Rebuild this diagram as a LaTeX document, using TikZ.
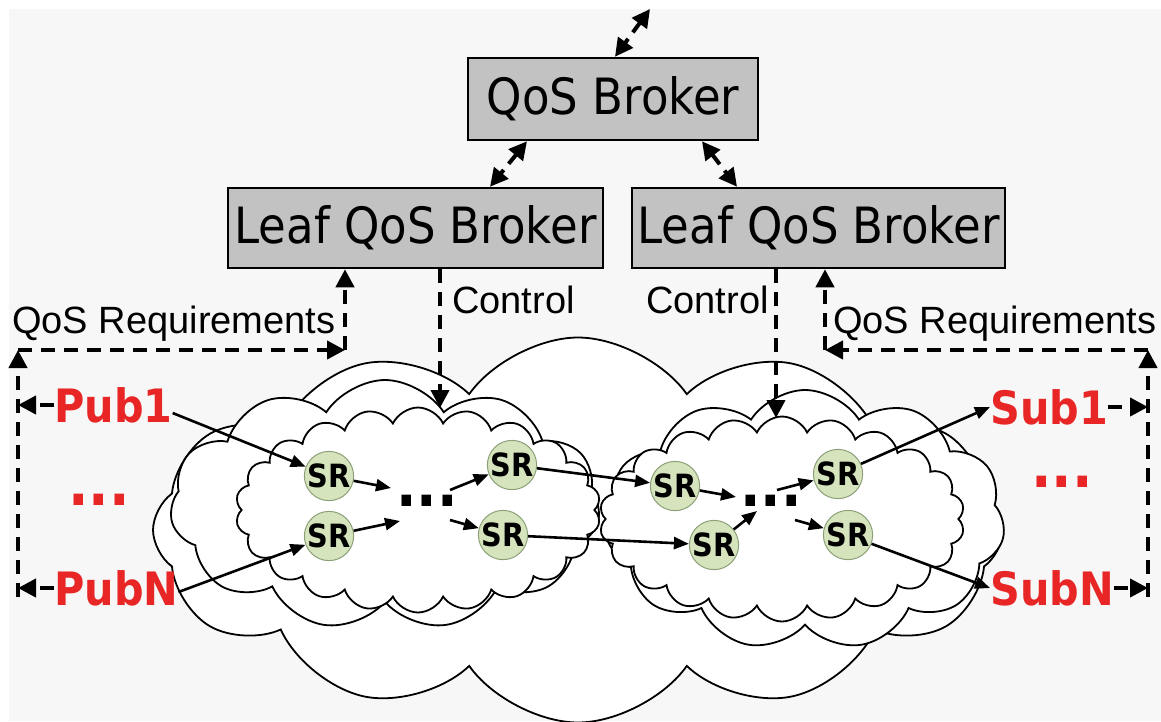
\documentclass[tikz,border=0pt]{standalone}
\usepackage{fontspec}
\usetikzlibrary{shapes.symbols,arrows.meta,calc}
\newfontfamily\arialf{Liberation Sans}
\newfontfamily\verdf[FakeStretch=0.9]{DejaVu Sans}
\definecolor{bg}{RGB}{247,247,247}
\definecolor{boxgray}{RGB}{194,194,194}
\definecolor{srfill}{RGB}{214,228,190}
\definecolor{srdraw}{RGB}{140,160,120}
\definecolor{pubred}{RGB}{232,38,38}
\begin{document}
\begin{tikzpicture}[x=1pt,y=-1pt,
 broker/.style={draw=black,line width=2.5pt,fill=boxgray,inner sep=0pt,font=\verdf\fontsize{50}{56}\selectfont},
 sr/.style={circle,draw=srdraw,line width=1pt,fill=srfill,minimum size=47pt,inner sep=0pt,font=\verdf\bfseries\fontsize{32}{34}\selectfont},
 pubsub/.style={text=pubred,inner sep=0pt,font=\verdf\bfseries\fontsize{46}{50}\selectfont},
 lbl/.style={inner sep=0pt,font=\arialf\fontsize{38}{42}\selectfont},
 dots/.style={inner sep=0pt,anchor=base,font=\verdf\bfseries\fontsize{60}{60}\selectfont},
 dasharrow/.style={line width=4pt,dash pattern=on 14pt off 9pt,-{Triangle[length=18pt,width=18pt]}},
 dashboth/.style={line width=4pt,dash pattern=on 12pt off 8pt,{Triangle[length=18pt,width=18pt]}-{Triangle[length=18pt,width=18pt]}},
 flow/.style={line width=2.6pt,-{Triangle[length=15pt,width=12pt]}},
 cloudy/.style={cloud,cloud ignores aspect,draw=black,line width=1.8pt,fill=white,inner sep=0pt},
]
\useasboundingbox (0,0) rectangle (1161,721);
\fill[bg] (9,9) rectangle (1161,721);

% clouds
\node[cloudy,cloud puffs=12,cloud puff arc=110,minimum width=850pt,minimum height=385pt] (outer) at (578,530) {};
\node[cloudy,cloud puffs=11,cloud puff arc=115,minimum width=430pt,minimum height=250pt] (midL) at (385,505) {};
\node[cloudy,cloud puffs=11,cloud puff arc=115,minimum width=400pt,minimum height=260pt] (midR) at (805,520) {};
\node[cloudy,cloud puffs=22,cloud puff arc=130,minimum width=365pt,minimum height=205pt] (inL) at (418,510) {};
\node[cloudy,cloud puffs=22,cloud puff arc=130,minimum width=365pt,minimum height=205pt] (inR) at (782,519) {};

% brokers
\node[broker,minimum width=290pt,minimum height=82pt] (qb) at (613,99) {QoS Broker};
\node[broker,minimum width=375pt,minimum height=80pt] (leafL) at (415.5,228) {Leaf QoS Broker};
\node[broker,minimum width=373pt,minimum height=80pt] (leafR) at (818.5,228) {Leaf QoS Broker};

% labels
\node[lbl,anchor=base west] (qrL) at (12,333) {QoS Requirements};
\node[lbl,anchor=base west] (qrR) at (833,333) {QoS Requirements};
\node[lbl,anchor=base west] (ctL) at (452,313) {Control};
\node[lbl,anchor=base west] (ctR) at (646,313) {Control};

% pubs / subs
\node[pubsub,anchor=west] (pub1) at (54,405) {Pub1};
\node[pubsub,anchor=west] (pubN) at (54,588) {PubN};
\node[pubsub,anchor=west] (sub1) at (990,407) {Sub1};
\node[pubsub,anchor=west] (subN) at (990,588) {SubN};
\node[dots,text=pubred] (rdL) at (99,505) {...};
\node[dots,text=pubred] (rdR) at (1062,487) {...};
\node[dots] (bdL) at (427,506) {...};
\node[dots] (bdR) at (771,506) {...};

% SR nodes
\node[sr] (sr1) at (329,476) {SR};
\node[sr] (sr2) at (329,536) {SR};
\node[sr] (sr3) at (512,465) {SR};
\node[sr] (sr4) at (503,535) {SR};
\node[sr] (sr5) at (675,486) {SR};
\node[sr] (sr6) at (714,545) {SR};
\node[sr] (sr7) at (838,474) {SR};
\node[sr] (sr8) at (848,535) {SR};

% coordinates
\coordinate (ext) at (650,9);
\coordinate (tl) at (18,350);
\coordinate (bl) at (18,597);
\coordinate (cL) at (345,350);
\coordinate (tr) at (1148,350);
\coordinate (br) at (1148,597);
\coordinate (cR) at (825,350);
\coordinate (ctlL) at (440,408);
\coordinate (ctlR) at (776,418);
\coordinate (d1a) at (391,488);
\coordinate (d1b) at (400,521);
\coordinate (d1c) at (450,490);
\coordinate (d1d) at (450,520);
\coordinate (d2a) at (736,497);
\coordinate (d2b) at (757,511);
\coordinate (d2c) at (777,490);
\coordinate (d2d) at (795,520);

% broker arrows
\draw[dashboth] (ext) -- ([xshift=2pt]qb.north);
\draw[dashboth] ([xshift=-86pt]qb.south) -- ([xshift=74.5pt]leafL.north);
\draw[dashboth] ([xshift=89pt]qb.south) -- ([xshift=-81.5pt]leafR.north);

% QoS requirement paths
\draw[dasharrow] (pub1.west) -- (pub1.west -| tl);
\draw[dasharrow] (pubN.west) -- (pubN.west -| tl);
\draw[dasharrow] (bl) -- (tl);
\draw[dasharrow] (tl) -- (cL);
\draw[dasharrow] (cL) -- ([xshift=-70.5pt]leafL.south);
\draw[dasharrow] (sub1.east) -- (sub1.east -| tr);
\draw[dasharrow] (subN.east) -- (subN.east -| tr);
\draw[dasharrow] (br) -- (tr);
\draw[dasharrow] (tr) -- (cR);
\draw[dasharrow] (cR) -- ([xshift=6.5pt]leafR.south);

% control
\draw[dasharrow] ([xshift=24.5pt]leafL.south) -- (ctlL);
\draw[dasharrow] ([xshift=-42.5pt]leafR.south) -- (ctlR);

% data flow
\draw[flow] ([yshift=-8pt]pub1.east) -- (sr1);
\draw[flow] ([yshift=-4pt]pubN.east) -- (sr2);
\draw[flow] (sr1) -- (d1a);
\draw[flow] (sr2) -- (d1b);
\draw[flow] (d1c) -- (sr3);
\draw[flow] (d1d) -- (sr4);
\draw[flow] (sr3) -- (sr5);
\draw[flow] (sr4) -- (sr6);
\draw[flow] (sr5) -- (d2a);
\draw[flow] (sr6) -- (d2b);
\draw[flow] (d2c) -- (sr7);
\draw[flow] (d2d) -- (sr8);
\draw[flow] (sr7) -- (sub1.west);
\draw[flow] (sr8) -- (subN.west);
\end{tikzpicture}
\end{document}
